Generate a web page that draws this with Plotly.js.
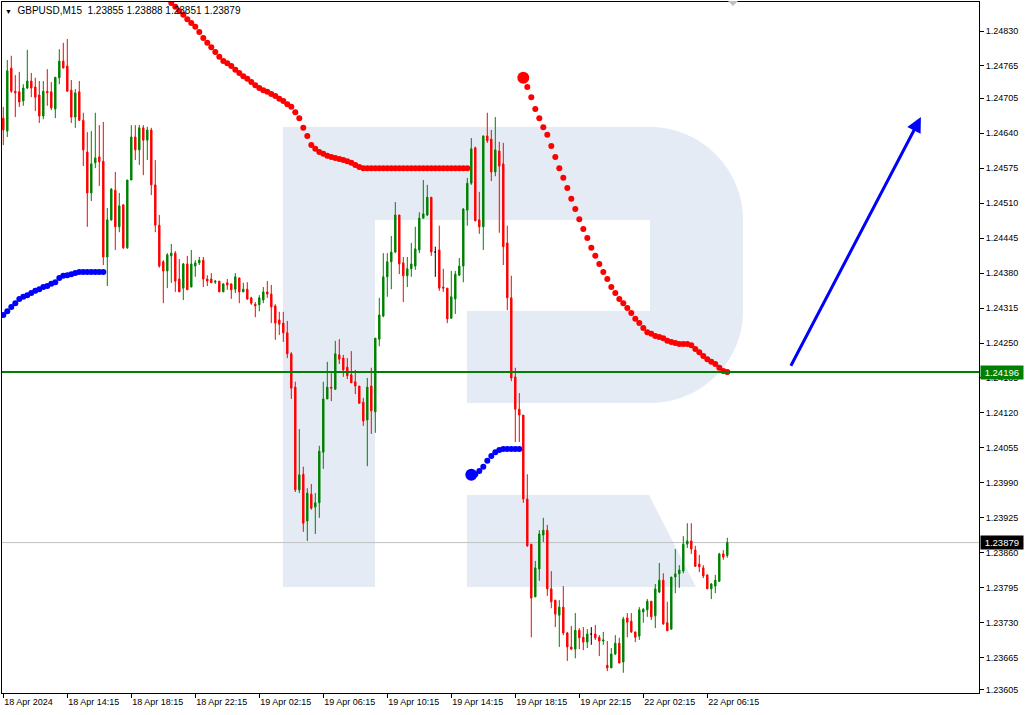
<!DOCTYPE html>
<html><head><meta charset="utf-8">
<script src="https://cdn.plot.ly/plotly-3.0.1.min.js"></script>
<style>html,body{margin:0;padding:0;background:#fff}#chart{width:1025px;height:715px}</style>
</head><body><div id="chart"></div>
<script>
const symbolName = 'GBPUSD,M15';
const open = [1.24668,1.24644,1.24761,1.24718,1.24717,1.24700,1.24724,1.24737,1.24726,1.24711,
1.24672,1.24718,1.24717,1.24685,1.24743,1.24774,1.24765,1.24720,1.24670,1.24717,
1.24664,1.24605,1.24529,1.24585,1.24596,1.24588,1.24410,1.24479,1.24534,1.24466,
1.24507,1.24427,1.24553,1.24633,1.24609,1.24650,1.24627,1.24646,1.24544,1.24469,
1.24401,1.24384,1.24412,1.24417,1.24369,1.24352,1.24397,1.24354,1.24393,1.24399,
1.24404,1.24369,1.24369,1.24363,1.24365,1.24345,1.24362,1.24360,1.24350,1.24371,
1.24345,1.24350,1.24334,1.24322,1.24321,1.24330,1.24345,1.24341,1.24319,1.24293,
1.24287,1.24269,1.24230,1.24168,1.23977,1.24006,1.23919,1.23969,1.23945,1.23953,
1.24047,1.24146,1.24168,1.24164,1.24228,1.24222,1.24205,1.24191,1.24178,1.24170,
1.24140,1.24107,1.24170,1.24122,1.24257,1.24300,1.24373,1.24401,1.24419,1.24488,
1.24399,1.24375,1.24388,1.24393,1.24423,1.24482,1.24488,1.24521,1.24419,1.24423,
1.24354,1.24352,1.24296,1.24332,1.24376,1.24393,1.24497,1.24547,1.24613,1.24479,
1.24466,1.24635,1.24629,1.24568,1.24607,1.24583,1.24436,1.24334,1.24187,1.24127,
1.24116,1.23960,1.23876,1.23778,1.23830,1.23893,1.23902,1.23793,1.23772,1.23744,
1.23759,1.23711,1.23685,1.23681,1.23716,1.23703,1.23694,1.23709,1.23709,1.23703,
1.23696,1.23651,1.23646,1.23672,1.23692,1.23657,1.23739,1.23733,1.23713,1.23705,
1.23750,1.23754,1.23770,1.23743,1.23787,1.23809,1.23730,1.23718,1.23815,1.23821,
1.23826,1.23876,1.23882,1.23865,1.23839,1.23832,1.23819,1.23793,1.23798,1.23807,
1.23858,1.23855];
const high = [1.24689,1.24776,1.24784,1.24748,1.24754,1.24731,1.24795,1.24752,1.24743,1.24737,
1.24737,1.24759,1.24735,1.24744,1.24796,1.24808,1.24815,1.24739,1.24722,1.24737,
1.24678,1.24642,1.24644,1.24678,1.24655,1.24661,1.24501,1.24538,1.24568,1.24529,
1.24507,1.24553,1.24655,1.24655,1.24655,1.24655,1.24652,1.24650,1.24590,1.24488,
1.24404,1.24417,1.24434,1.24421,1.24406,1.24399,1.24412,1.24423,1.24404,1.24410,
1.24410,1.24376,1.24380,1.24367,1.24365,1.24360,1.24369,1.24360,1.24380,1.24371,
1.24362,1.24363,1.24336,1.24326,1.24339,1.24354,1.24365,1.24358,1.24322,1.24308,
1.24308,1.24291,1.24233,1.24178,1.24090,1.24020,1.23980,1.23988,1.23971,1.24059,
1.24178,1.24215,1.24194,1.24254,1.24257,1.24228,1.24222,1.24235,1.24200,1.24170,
1.24148,1.24185,1.24204,1.24259,1.24334,1.24417,1.24417,1.24449,1.24512,1.24488,
1.24410,1.24410,1.24436,1.24466,1.24493,1.24553,1.24544,1.24521,1.24429,1.24468,
1.24388,1.24352,1.24384,1.24384,1.24408,1.24501,1.24557,1.24631,1.24615,1.24531,
1.24635,1.24678,1.24646,1.24670,1.24624,1.24622,1.24468,1.24375,1.24204,1.24157,
1.24116,1.24006,1.23876,1.23845,1.23902,1.23925,1.23912,1.23826,1.23772,1.23772,
1.23798,1.23713,1.23724,1.23748,1.23720,1.23722,1.23718,1.23722,1.23726,1.23707,
1.23713,1.23696,1.23683,1.23707,1.23702,1.23741,1.23748,1.23748,1.23713,1.23759,
1.23757,1.23774,1.23770,1.23802,1.23841,1.23822,1.23769,1.23815,1.23867,1.23837,
1.23891,1.23915,1.23915,1.23873,1.23856,1.23837,1.23819,1.23804,1.23819,1.23860,
1.23865,1.23888];
const low = [1.24618,1.24633,1.24715,1.24670,1.24689,1.24691,1.24722,1.24707,1.24681,1.24659,
1.24666,1.24691,1.24683,1.24668,1.24731,1.24761,1.24718,1.24659,1.24650,1.24663,
1.24579,1.24466,1.24514,1.24575,1.24542,1.24395,1.24356,1.24477,1.24423,1.24456,
1.24425,1.24425,1.24553,1.24590,1.24581,1.24562,1.24590,1.24525,1.24456,1.24390,
1.24324,1.24352,1.24362,1.24345,1.24345,1.24330,1.24349,1.24354,1.24373,1.24395,
1.24354,1.24356,1.24362,1.24360,1.24345,1.24345,1.24349,1.24332,1.24343,1.24324,
1.24345,1.24330,1.24321,1.24298,1.24309,1.24324,1.24334,1.24287,1.24256,1.24265,
1.24252,1.24222,1.24146,1.23973,1.23971,1.23899,1.23882,1.23940,1.23895,1.23925,
1.24016,1.24146,1.24142,1.24163,1.24211,1.24187,1.24183,1.24176,1.24155,1.24138,
1.24096,1.24021,1.24081,1.24083,1.24244,1.24298,1.24336,1.24350,1.24417,1.24378,
1.24326,1.24354,1.24373,1.24386,1.24417,1.24482,1.24486,1.24412,1.24373,1.24347,
1.24345,1.24287,1.24296,1.24304,1.24375,1.24363,1.24468,1.24544,1.24477,1.24453,
1.24423,1.24622,1.24551,1.24560,1.24455,1.24395,1.24311,1.24179,1.24066,1.24066,
1.23953,1.23871,1.23703,1.23778,1.23808,1.23880,1.23780,1.23757,1.23722,1.23685,
1.23707,1.23659,1.23679,1.23664,1.23681,1.23679,1.23683,1.23689,1.23698,1.23668,
1.23689,1.23640,1.23646,1.23670,1.23655,1.23637,1.23703,1.23711,1.23694,1.23698,
1.23730,1.23741,1.23735,1.23720,1.23785,1.23726,1.23715,1.23718,1.23785,1.23795,
1.23822,1.23869,1.23858,1.23834,1.23824,1.23813,1.23793,1.23774,1.23785,1.23806,
1.23847,1.23851];
const close = [1.24646,1.24756,1.24718,1.24715,1.24698,1.24724,1.24737,1.24724,1.24707,1.24672,
1.24718,1.24715,1.24687,1.24744,1.24774,1.24761,1.24718,1.24670,1.24715,1.24664,
1.24609,1.24529,1.24583,1.24594,1.24587,1.24410,1.24479,1.24536,1.24466,1.24505,
1.24427,1.24553,1.24633,1.24609,1.24650,1.24627,1.24646,1.24544,1.24469,1.24393,
1.24384,1.24414,1.24417,1.24365,1.24345,1.24397,1.24349,1.24397,1.24399,1.24404,
1.24369,1.24365,1.24362,1.24365,1.24345,1.24360,1.24358,1.24349,1.24373,1.24345,
1.24350,1.24332,1.24324,1.24319,1.24334,1.24345,1.24341,1.24317,1.24287,1.24285,
1.24269,1.24230,1.24166,1.23977,1.24005,1.23915,1.23971,1.23943,1.23953,1.24049,
1.24146,1.24168,1.24166,1.24230,1.24220,1.24200,1.24189,1.24176,1.24170,1.24138,
1.24105,1.24168,1.24124,1.24259,1.24302,1.24373,1.24401,1.24419,1.24488,1.24397,
1.24375,1.24388,1.24397,1.24425,1.24482,1.24490,1.24521,1.24419,1.24419,1.24352,
1.24352,1.24295,1.24336,1.24378,1.24393,1.24499,1.24547,1.24611,1.24477,1.24466,
1.24635,1.24626,1.24568,1.24609,1.24579,1.24429,1.24334,1.24185,1.24127,1.24116,
1.23960,1.23873,1.23776,1.23832,1.23895,1.23902,1.23793,1.23769,1.23746,1.23759,
1.23711,1.23685,1.23681,1.23716,1.23702,1.23694,1.23709,1.23709,1.23702,1.23696,
1.23698,1.23646,1.23672,1.23692,1.23655,1.23737,1.23731,1.23713,1.23703,1.23754,
1.23755,1.23770,1.23741,1.23793,1.23809,1.23728,1.23715,1.23815,1.23821,1.23828,
1.23876,1.23882,1.23867,1.23835,1.23834,1.23817,1.23793,1.23802,1.23809,1.23858,
1.23852,1.23879];

// Indicator dots (bar index of first value + values)
const blueTrail1Start = 0;
const blueTrail1 = [1.24302,1.24309,1.24317,1.24324,1.24332,1.24336,1.24339,1.24343,1.24347,1.24350,
1.24354,1.24356,1.24360,1.24363,1.24371,1.24375,1.24376,1.24378,1.24380,1.24382,
1.24382,1.24382,1.24382,1.24382,1.24382,1.24382];
const redTrail1Start = 42;
const redTrail1 = [1.24882,1.24875,1.24867,1.24860,1.24852,1.24845,1.24838,1.24828,1.24817,1.24808,
1.24800,1.24791,1.24782,1.24774,1.24770,1.24765,1.24758,1.24752,1.24746,1.24741,
1.24735,1.24729,1.24724,1.24720,1.24717,1.24713,1.24709,1.24704,1.24700,1.24694,
1.24689,1.24679,1.24668,1.24650,1.24635,1.24618,1.24611,1.24605,1.24602,1.24598,
1.24596,1.24594,1.24592,1.24590,1.24588,1.24585,1.24581,1.24577,1.24575,1.24575,
1.24575,1.24575,1.24575,1.24575,1.24575,1.24575,1.24575,1.24575,1.24575,1.24575,
1.24575,1.24575,1.24575,1.24575,1.24575,1.24575,1.24575,1.24575,1.24575,1.24575,
1.24575,1.24575,1.24575,1.24575,1.24575];
const blueTrail2Start = 117;
const blueTrail2 = [1.24005,1.24006,1.24012,1.24020,1.24031,1.24040,1.24047,1.24051,1.24053,1.24053,
1.24053,1.24053,1.24053];
const redTrail2Start = 130;
const redTrail2 = [1.24743,1.24726,1.24707,1.24685,1.24668,1.24651,1.24637,1.24616,1.24596,1.24575,
1.24557,1.24538,1.24518,1.24499,1.24480,1.24462,1.24445,1.24427,1.24412,1.24397,
1.24382,1.24369,1.24354,1.24343,1.24332,1.24324,1.24315,1.24306,1.24295,1.24287,
1.24278,1.24270,1.24267,1.24263,1.24261,1.24259,1.24254,1.24252,1.24250,1.24248,
1.24248,1.24248,1.24246,1.24239,1.24233,1.24226,1.24220,1.24215,1.24211,1.24204,
1.24198,1.24196];

const levelPrice = 1.24196;
const priceTicks = [1.24830,1.24765,1.24705,1.24640,1.24575,1.24510,1.24445,1.24380,1.24315,1.24250,
1.24185,1.24120,1.24055,1.23990,1.23925,1.23860,1.23795,1.23730,1.23665,1.23605];
const timeTickIdx = [0,16,32,48,64,80,96,112,128,144,160,176];
const timeTickText = ['18 Apr 2024','18 Apr 14:15','18 Apr 18:15','18 Apr 22:15','19 Apr 02:15','19 Apr 06:15',
'19 Apr 10:15','19 Apr 14:15','19 Apr 18:15','19 Apr 22:15','22 Apr 02:15','22 Apr 06:15'];

// ---------- build traces ----------
const idx = open.map((_, i) => i);
const isDoji = i => open[i] === close[i];
const mainI = idx.filter(i => !isDoji(i));
const dojiI = idx.filter(i => isDoji(i));
const pick = (arr, ids) => ids.map(i => arr[i]);
const seqX = (start, arr) => arr.map((_, k) => start + k);
const last = close.length - 1;
const FONT = 'Liberation Sans, Arial, sans-serif';

const traces = [
  {type:'candlestick', x:mainI, open:pick(open,mainI), high:pick(high,mainI), low:pick(low,mainI), close:pick(close,mainI),
   increasing:{line:{color:'#008000',width:1}, fillcolor:'#008000'},
   decreasing:{line:{color:'#ff0000',width:1}, fillcolor:'#ff0000'},
   whiskerwidth:0, hoverinfo:'skip'},
  {type:'candlestick', x:dojiI, open:pick(open,dojiI), high:pick(high,dojiI), low:pick(low,dojiI), close:pick(close,dojiI),
   increasing:{line:{color:'#000000',width:1}, fillcolor:'#000000'},
   decreasing:{line:{color:'#000000',width:1}, fillcolor:'#000000'},
   whiskerwidth:0, hoverinfo:'skip'},
  {type:'scatter', mode:'markers', x:seqX(blueTrail1Start, blueTrail1), y:blueTrail1, marker:{color:'#0000ff', size:6}, hoverinfo:'skip'},
  {type:'scatter', mode:'markers', x:seqX(redTrail1Start, redTrail1), y:redTrail1, marker:{color:'#ff0000', size:6}, hoverinfo:'skip'},
  {type:'scatter', mode:'markers', x:seqX(blueTrail2Start, blueTrail2), y:blueTrail2, marker:{color:'#0000ff', size:6}, hoverinfo:'skip'},
  {type:'scatter', mode:'markers', x:[blueTrail2Start], y:[blueTrail2[0]], marker:{color:'#0000ff', size:12}, hoverinfo:'skip'},
  {type:'scatter', mode:'markers', x:seqX(redTrail2Start, redTrail2), y:redTrail2, marker:{color:'#ff0000', size:6}, hoverinfo:'skip'},
  {type:'scatter', mode:'markers', x:[redTrail2Start], y:[redTrail2[0]], marker:{color:'#ff0000', size:12}, hoverinfo:'skip'}
];

// ---------- layout ----------
const PL = 2, PR = 979, PT = 2, PB = 693;
const PX = v => (v - PL) / (PR - PL);
const PY = v => (PB - v) / (PB - PT);
const wm = '#e5ebf4';
const rectPx = (x0, y0, x1, y1) => ({type:'rect', xref:'paper', yref:'paper', x0:PX(x0), x1:PX(x1), y0:PY(y1), y1:PY(y0),
  fillcolor:wm, line:{width:0}, layer:'below'});
const pathPx = (pts) => ({type:'path', xref:'paper', yref:'paper', path:pts, fillcolor:wm, line:{width:0}, layer:'below'});
const bowl = `M ${PX(650)} ${PY(127)} C ${PX(701)} ${PY(127)} ${PX(743)} ${PY(169)} ${PX(743)} ${PY(220)} L ${PX(743)} ${PY(311)} C ${PX(743)} ${PY(362)} ${PX(701)} ${PY(403)} ${PX(650)} ${PY(403)} Z`;
const leg = `M ${PX(467)} ${PY(495)} L ${PX(649)} ${PY(495)} L ${PX(696)} ${PY(587)} L ${PX(467)} ${PY(587)} Z`;

const shapes = [
  rectPx(283,127,375,587),
  rectPx(375,127,651,220),
  pathPx(bowl),
  rectPx(467,311,651,403),
  pathPx(leg),
  {type:'line', xref:'paper', yref:'y', x0:0, x1:1, y0:close[last], y1:close[last], line:{color:'#c0c0c0', width:1}, layer:'below'},
  {type:'line', xref:'paper', yref:'y', x0:0, x1:1, y0:levelPrice, y1:levelPrice, line:{color:'#008000', width:2}, layer:'above'},
  {type:'path', xref:'paper', yref:'paper', path:`M ${PX(728)} ${PY(1)} L ${PX(738)} ${PY(1)} L ${PX(733)} ${PY(6)} Z`, fillcolor:'#c0c0c0', line:{width:0}, layer:'above'}
];

const f5 = v => v.toFixed(5);
const annotations = [
  {xref:'paper', yref:'y', x:1, y:levelPrice, xanchor:'left', yanchor:'middle', xshift:1, showarrow:false,
   text:'\u00a0' + f5(levelPrice) + '\u00a0', bgcolor:'#008000', font:{family:FONT, size:9.5, color:'#ffffff'}, borderpad:1},
  {xref:'paper', yref:'y', x:1, y:close[last], xanchor:'left', yanchor:'middle', xshift:1, showarrow:false,
   text:'\u00a0' + f5(close[last]) + '\u00a0', bgcolor:'#000000', font:{family:FONT, size:9.5, color:'#ffffff'}, borderpad:1},
  {xref:'x', yref:'y', axref:'x', ayref:'y', x:229.4, y:1.24670, ax:196.7, ay:1.24205, text:'', showarrow:true,
   arrowhead:2, arrowsize:1, arrowwidth:3, arrowcolor:'#0000ff'}
];

const layout = {
  width:1025, height:715,
  margin:{l:PL, r:1025-PR, t:PT, b:715-PB, pad:0},
  paper_bgcolor:'#ffffff', plot_bgcolor:'#ffffff',
  showlegend:false, boxgap:0.5,
  title:{text:'<span style="font-size:7px">▼</span>\u00a0\u00a0' + symbolName + '\u00a0\u00a0' + [open[last],high[last],low[last],close[last]].map(f5).join(' '),
         x:5/1025, xanchor:'left', y:1-10/715, yanchor:'middle', font:{family:FONT, size:10, color:'#000000'}},
  font:{family:FONT, size:9, color:'#000000'},
  xaxis:{range:[(PL-3.3)/4, (PR-3.3)/4], showgrid:false, zeroline:false, showline:true, mirror:true, linecolor:'#000000', linewidth:1,
         ticks:'outside', ticklen:4, tickcolor:'#000000', tickvals:timeTickIdx, ticktext:timeTickText,
         ticklabelposition:'outside right', tickfont:{family:FONT, size:9, color:'#000000'},
         rangeslider:{visible:false}, fixedrange:true},
  yaxis:{side:'right', range:[1.235994, 1.248839], showgrid:false, zeroline:false, showline:true, mirror:true, linecolor:'#000000', linewidth:1,
         ticks:'outside', ticklen:4, tickcolor:'#000000', tickvals:priceTicks, ticktext:priceTicks.map(f5),
         tickfont:{family:FONT, size:9, color:'#000000'}, fixedrange:true},
  shapes:shapes, annotations:annotations
};

Plotly.newPlot('chart', traces, layout, {staticPlot:true, displayModeBar:false});
</script>
</body></html>
